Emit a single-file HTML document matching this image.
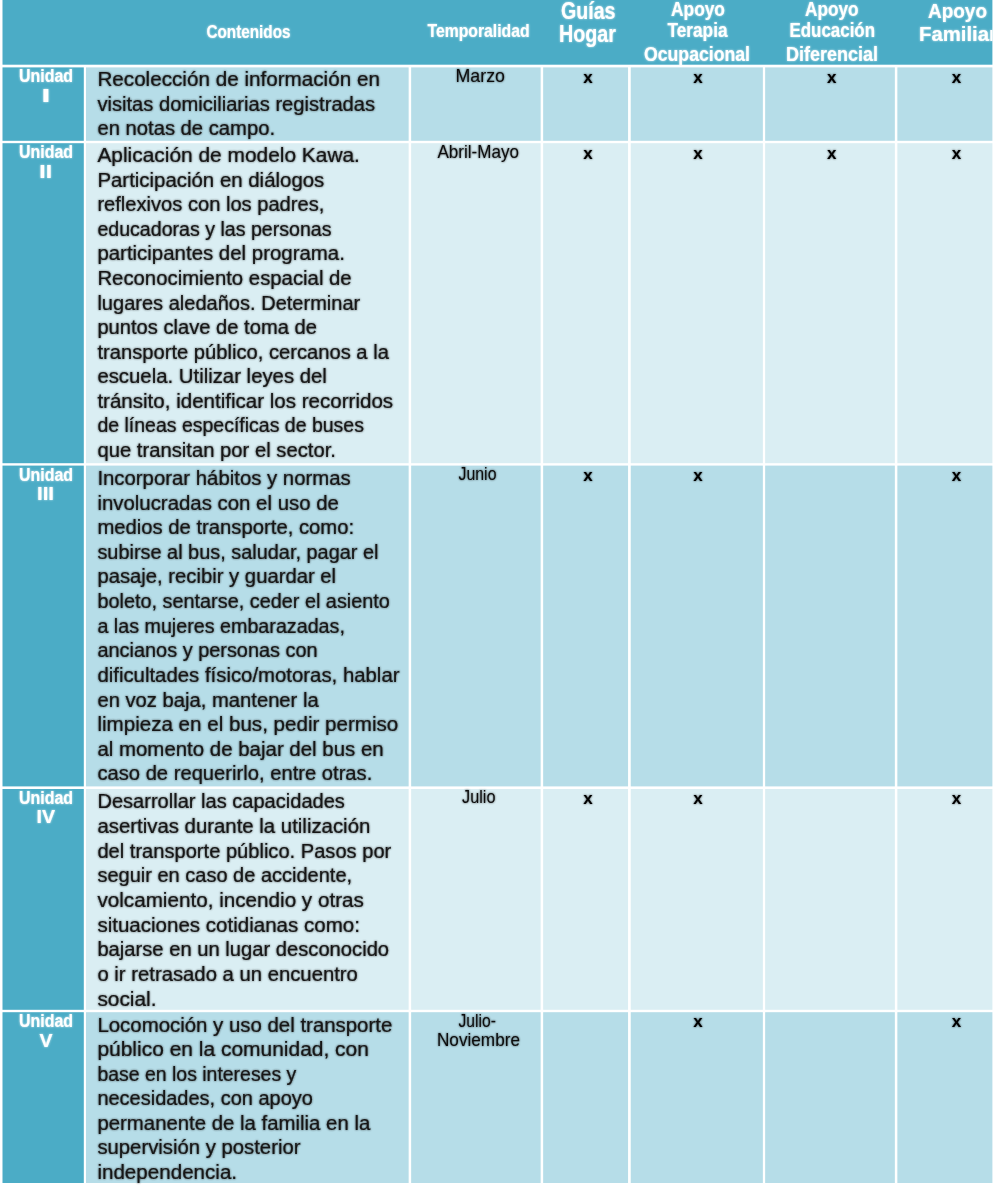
<!DOCTYPE html>
<html lang="es">
<head>
<meta charset="utf-8">
<title>Unidades del programa</title>
<style>
html,body{margin:0;padding:0;background:#fff;}
svg{display:block;}
text{font-family:'Liberation Sans', 'DejaVu Sans', sans-serif;white-space:pre;}
.b{font-size:20px;fill:#181818;stroke:#181818;stroke-width:0.2px;}
.h{font-weight:bold;fill:#fff;}
</style>
</head>
<body>
<svg width="995" height="1186" viewBox="0 0 995 1186">
<defs><clipPath id="hc"><rect x="2.5" y="-10" width="989.9" height="74.7"/></clipPath><filter id="soft" filterUnits="userSpaceOnUse" x="-20" y="-20" width="1140" height="1230"><feGaussianBlur stdDeviation="0.8"/><feComponentTransfer result="b"><feFuncA type="linear" slope="0.7"/></feComponentTransfer><feMerge><feMergeNode in="b"/><feMergeNode in="SourceGraphic"/></feMerge></filter></defs>
<rect x="0" y="0" width="995" height="1186" fill="#fff"/>
<g id="table">
<rect x="-20" y="-20" width="1040" height="1230" fill="#fff"/>
<g id="grid">
<rect x="2.5" y="-10" width="989.9" height="74.7" fill="#4BACC6"/>
<rect x="2.5" y="67.4" width="81.3" height="73.4" fill="#4BACC6"/>
<rect x="86" y="67.4" width="322.65" height="73.4" fill="#B6DDE8"/>
<rect x="411.15" y="67.4" width="129.5" height="73.4" fill="#B6DDE8"/>
<rect x="543.15" y="67.4" width="84.9" height="73.4" fill="#B6DDE8"/>
<rect x="630.75" y="67.4" width="132.1" height="73.4" fill="#B6DDE8"/>
<rect x="765.15" y="67.4" width="129.7" height="73.4" fill="#B6DDE8"/>
<rect x="897.35" y="67.4" width="95.05" height="73.4" fill="#B6DDE8"/>
<rect x="2.5" y="143.2" width="81.3" height="320" fill="#4BACC6"/>
<rect x="86" y="143.2" width="322.65" height="320" fill="#DAEEF3"/>
<rect x="411.15" y="143.2" width="129.5" height="320" fill="#DAEEF3"/>
<rect x="543.15" y="143.2" width="84.9" height="320" fill="#DAEEF3"/>
<rect x="630.75" y="143.2" width="132.1" height="320" fill="#DAEEF3"/>
<rect x="765.15" y="143.2" width="129.7" height="320" fill="#DAEEF3"/>
<rect x="897.35" y="143.2" width="95.05" height="320" fill="#DAEEF3"/>
<rect x="2.5" y="465.6" width="81.3" height="320.8" fill="#4BACC6"/>
<rect x="86" y="465.6" width="322.65" height="320.8" fill="#B6DDE8"/>
<rect x="411.15" y="465.6" width="129.5" height="320.8" fill="#B6DDE8"/>
<rect x="543.15" y="465.6" width="84.9" height="320.8" fill="#B6DDE8"/>
<rect x="630.75" y="465.6" width="132.1" height="320.8" fill="#B6DDE8"/>
<rect x="765.15" y="465.6" width="129.7" height="320.8" fill="#B6DDE8"/>
<rect x="897.35" y="465.6" width="95.05" height="320.8" fill="#B6DDE8"/>
<rect x="2.5" y="789" width="81.3" height="220.8" fill="#4BACC6"/>
<rect x="86" y="789" width="322.65" height="220.8" fill="#DAEEF3"/>
<rect x="411.15" y="789" width="129.5" height="220.8" fill="#DAEEF3"/>
<rect x="543.15" y="789" width="84.9" height="220.8" fill="#DAEEF3"/>
<rect x="630.75" y="789" width="132.1" height="220.8" fill="#DAEEF3"/>
<rect x="765.15" y="789" width="129.7" height="220.8" fill="#DAEEF3"/>
<rect x="897.35" y="789" width="95.05" height="220.8" fill="#DAEEF3"/>
<rect x="2.5" y="1012.2" width="81.3" height="170.8" fill="#4BACC6"/>
<rect x="86" y="1012.2" width="322.65" height="170.8" fill="#B6DDE8"/>
<rect x="411.15" y="1012.2" width="129.5" height="170.8" fill="#B6DDE8"/>
<rect x="543.15" y="1012.2" width="84.9" height="170.8" fill="#B6DDE8"/>
<rect x="630.75" y="1012.2" width="132.1" height="170.8" fill="#B6DDE8"/>
<rect x="765.15" y="1012.2" width="129.7" height="170.8" fill="#B6DDE8"/>
<rect x="897.35" y="1012.2" width="95.05" height="170.8" fill="#B6DDE8"/>
</g>
<g id="labels" filter="url(#soft)">
<text id="t0" x="97.40" y="86.20" textLength="282.50" lengthAdjust="spacingAndGlyphs" class="b">Recolección de información en</text>
<text id="t1" x="97.40" y="110.55" textLength="277.70" lengthAdjust="spacingAndGlyphs" class="b">visitas domiciliarias registradas</text>
<text id="t2" x="97.40" y="134.90" textLength="177.71" lengthAdjust="spacingAndGlyphs" class="b">en notas de campo.</text>
<text id="t3" x="97.40" y="162.10" textLength="262.51" lengthAdjust="spacingAndGlyphs" class="b">Aplicación de modelo Kawa.</text>
<text id="t4" x="97.40" y="186.68" textLength="226.90" lengthAdjust="spacingAndGlyphs" class="b">Participación en diálogos</text>
<text id="t5" x="97.40" y="211.26" textLength="226.90" lengthAdjust="spacingAndGlyphs" class="b">reflexivos con los padres,</text>
<text id="t6" x="97.40" y="235.84" textLength="234.10" lengthAdjust="spacingAndGlyphs" class="b">educadoras y las personas</text>
<text id="t7" x="97.40" y="260.42" textLength="247.51" lengthAdjust="spacingAndGlyphs" class="b">participantes del programa.</text>
<text id="t8" x="97.40" y="285.00" textLength="254.30" lengthAdjust="spacingAndGlyphs" class="b">Reconocimiento espacial de</text>
<text id="t9" x="97.40" y="309.58" textLength="262.90" lengthAdjust="spacingAndGlyphs" class="b">lugares aledaños. Determinar</text>
<text id="t10" x="97.40" y="334.16" textLength="219.50" lengthAdjust="spacingAndGlyphs" class="b">puntos clave de toma de</text>
<text id="t11" x="97.40" y="358.74" textLength="291.50" lengthAdjust="spacingAndGlyphs" class="b">transporte público, cercanos a la</text>
<text id="t12" x="97.40" y="383.32" textLength="229.50" lengthAdjust="spacingAndGlyphs" class="b">escuela. Utilizar leyes del</text>
<text id="t13" x="97.40" y="407.90" textLength="295.70" lengthAdjust="spacingAndGlyphs" class="b">tránsito, identificar los recorridos</text>
<text id="t14" x="97.40" y="432.48" textLength="266.50" lengthAdjust="spacingAndGlyphs" class="b">de líneas específicas de buses</text>
<text id="t15" x="97.40" y="457.06" textLength="238.51" lengthAdjust="spacingAndGlyphs" class="b">que transitan por el sector.</text>
<text id="t16" x="97.40" y="484.90" textLength="253.30" lengthAdjust="spacingAndGlyphs" class="b">Incorporar hábitos y normas</text>
<text id="t17" x="97.40" y="509.53" textLength="241.50" lengthAdjust="spacingAndGlyphs" class="b">involucradas con el uso de</text>
<text id="t18" x="97.40" y="534.16" textLength="256.70" lengthAdjust="spacingAndGlyphs" class="b">medios de transporte, como:</text>
<text id="t19" x="97.40" y="558.79" textLength="281.10" lengthAdjust="spacingAndGlyphs" class="b">subirse al bus, saludar, pagar el</text>
<text id="t20" x="97.40" y="583.42" textLength="238.71" lengthAdjust="spacingAndGlyphs" class="b">pasaje, recibir y guardar el</text>
<text id="t21" x="97.40" y="608.05" textLength="292.50" lengthAdjust="spacingAndGlyphs" class="b">boleto, sentarse, ceder el asiento</text>
<text id="t22" x="97.40" y="632.68" textLength="247.51" lengthAdjust="spacingAndGlyphs" class="b">a las mujeres embarazadas,</text>
<text id="t23" x="97.40" y="657.31" textLength="220.30" lengthAdjust="spacingAndGlyphs" class="b">ancianos y personas con</text>
<text id="t24" x="97.40" y="681.94" textLength="302.10" lengthAdjust="spacingAndGlyphs" class="b">dificultades físico/motoras, hablar</text>
<text id="t25" x="97.40" y="706.57" textLength="221.30" lengthAdjust="spacingAndGlyphs" class="b">en voz baja, mantener la</text>
<text id="t26" x="97.40" y="731.20" textLength="300.90" lengthAdjust="spacingAndGlyphs" class="b">limpieza en el bus, pedir permiso</text>
<text id="t27" x="97.40" y="755.83" textLength="286.30" lengthAdjust="spacingAndGlyphs" class="b">al momento de bajar del bus en</text>
<text id="t28" x="97.40" y="780.46" textLength="274.90" lengthAdjust="spacingAndGlyphs" class="b">caso de requerirlo, entre otras.</text>
<text id="t29" x="97.40" y="808.10" textLength="247.50" lengthAdjust="spacingAndGlyphs" class="b">Desarrollar las capacidades</text>
<text id="t30" x="97.40" y="832.83" textLength="272.90" lengthAdjust="spacingAndGlyphs" class="b">asertivas durante la utilización</text>
<text id="t31" x="97.40" y="857.56" textLength="293.90" lengthAdjust="spacingAndGlyphs" class="b">del transporte público. Pasos por</text>
<text id="t32" x="97.40" y="882.29" textLength="254.70" lengthAdjust="spacingAndGlyphs" class="b">seguir en caso de accidente,</text>
<text id="t33" x="97.40" y="907.02" textLength="266.50" lengthAdjust="spacingAndGlyphs" class="b">volcamiento, incendio y otras</text>
<text id="t34" x="97.40" y="931.75" textLength="262.51" lengthAdjust="spacingAndGlyphs" class="b">situaciones cotidianas como:</text>
<text id="t35" x="97.40" y="956.48" textLength="291.70" lengthAdjust="spacingAndGlyphs" class="b">bajarse en un lugar desconocido</text>
<text id="t36" x="97.40" y="981.21" textLength="260.50" lengthAdjust="spacingAndGlyphs" class="b">o ir retrasado a un encuentro</text>
<text id="t37" x="97.40" y="1005.94" textLength="59.13" lengthAdjust="spacingAndGlyphs" class="b">social.</text>
<text id="t38" x="97.40" y="1031.50" textLength="294.90" lengthAdjust="spacingAndGlyphs" class="b">Locomoción y uso del transporte</text>
<text id="t39" x="97.40" y="1056.07" textLength="271.50" lengthAdjust="spacingAndGlyphs" class="b">público en la comunidad, con</text>
<text id="t40" x="97.40" y="1080.64" textLength="198.90" lengthAdjust="spacingAndGlyphs" class="b">base en los intereses y</text>
<text id="t41" x="97.40" y="1105.21" textLength="215.50" lengthAdjust="spacingAndGlyphs" class="b">necesidades, con apoyo</text>
<text id="t42" x="97.40" y="1129.78" textLength="272.90" lengthAdjust="spacingAndGlyphs" class="b">permanente de la familia en la</text>
<text id="t43" x="97.40" y="1154.35" textLength="203.10" lengthAdjust="spacingAndGlyphs" class="b">supervisión y posterior</text>
<text id="t44" x="97.40" y="1178.92" textLength="139.70" lengthAdjust="spacingAndGlyphs" class="b">independencia.</text>
<text id="t45" x="206.49" y="37.50" textLength="83.99" lengthAdjust="spacingAndGlyphs" style="font-size:19px;font-weight:bold;fill:#fff;stroke:#fff;stroke-width:0.1px">Contenidos</text>
<text id="t46" x="427.50" y="37.40" textLength="102.01" lengthAdjust="spacingAndGlyphs" style="font-size:19px;font-weight:bold;fill:#fff;stroke:#fff;stroke-width:0.1px">Temporalidad</text>
<text id="t47" x="561.00" y="18.50" textLength="54.52" lengthAdjust="spacingAndGlyphs" style="font-size:23px;font-weight:bold;fill:#fff;stroke:#fff;stroke-width:0.1px">Guías</text>
<text id="t48" x="559.02" y="42.00" textLength="56.98" lengthAdjust="spacingAndGlyphs" style="font-size:23px;font-weight:bold;fill:#fff;stroke:#fff;stroke-width:0.1px">Hogar</text>
<text id="t49" x="671.00" y="16.40" textLength="53.98" lengthAdjust="spacingAndGlyphs" style="font-size:19.5px;font-weight:bold;fill:#fff;stroke:#fff;stroke-width:0.1px">Apoyo</text>
<text id="t50" x="667.49" y="36.80" textLength="60.03" lengthAdjust="spacingAndGlyphs" style="font-size:19.5px;font-weight:bold;fill:#fff;stroke:#fff;stroke-width:0.1px">Terapia</text>
<text id="t51" x="644.02" y="60.50" textLength="106.00" lengthAdjust="spacingAndGlyphs" style="font-size:19.5px;font-weight:bold;fill:#fff;stroke:#fff;stroke-width:0.1px">Ocupacional</text>
<text id="t52" x="805.02" y="16.40" textLength="53.49" lengthAdjust="spacingAndGlyphs" style="font-size:19.5px;font-weight:bold;fill:#fff;stroke:#fff;stroke-width:0.1px">Apoyo</text>
<text id="t53" x="789.49" y="36.90" textLength="85.51" lengthAdjust="spacingAndGlyphs" style="font-size:19.5px;font-weight:bold;fill:#fff;stroke:#fff;stroke-width:0.1px">Educación</text>
<text id="t54" x="785.99" y="60.50" textLength="92.01" lengthAdjust="spacingAndGlyphs" style="font-size:19.5px;font-weight:bold;fill:#fff;stroke:#fff;stroke-width:0.1px">Diferencial</text>
<text id="t55" x="928.00" y="18.10" textLength="58.98" lengthAdjust="spacingAndGlyphs" style="font-size:21px;font-weight:bold;fill:#fff;stroke:#fff;stroke-width:0.1px">Apoyo</text>
<text id="t56" x="919.00" y="41.20" textLength="78.00" lengthAdjust="spacingAndGlyphs" style="font-size:21px;font-weight:bold;fill:#fff;stroke:#fff;stroke-width:0.1px" clip-path="url(#hc)">Familiar</text>
<text id="t57" x="19.00" y="82.10" textLength="54.00" lengthAdjust="spacingAndGlyphs" style="font-size:17.5px;font-weight:bold;fill:#fff;stroke:#fff;stroke-width:0.1px">Unidad</text>
<text id="t58" x="41.60" y="101.80" textLength="8.75" lengthAdjust="spacingAndGlyphs" style="font-size:17.5px;font-weight:bold;fill:#fff;stroke:#fff;stroke-width:0.1px">I</text>
<text id="t59" x="19.00" y="158.10" textLength="54.00" lengthAdjust="spacingAndGlyphs" style="font-size:17.5px;font-weight:bold;fill:#fff;stroke:#fff;stroke-width:0.1px">Unidad</text>
<text id="t60" x="39.37" y="177.80" textLength="12.72" lengthAdjust="spacingAndGlyphs" style="font-size:17.5px;font-weight:bold;fill:#fff;stroke:#fff;stroke-width:0.1px">II</text>
<text id="t61" x="19.00" y="480.60" textLength="54.00" lengthAdjust="spacingAndGlyphs" style="font-size:17.5px;font-weight:bold;fill:#fff;stroke:#fff;stroke-width:0.1px">Unidad</text>
<text id="t62" x="36.97" y="500.30" textLength="17.07" lengthAdjust="spacingAndGlyphs" style="font-size:17.5px;font-weight:bold;fill:#fff;stroke:#fff;stroke-width:0.1px">III</text>
<text id="t63" x="19.00" y="803.60" textLength="54.00" lengthAdjust="spacingAndGlyphs" style="font-size:17.5px;font-weight:bold;fill:#fff;stroke:#fff;stroke-width:0.1px">Unidad</text>
<text id="t64" x="36.50" y="823.30" textLength="18.53" lengthAdjust="spacingAndGlyphs" style="font-size:17.5px;font-weight:bold;fill:#fff;stroke:#fff;stroke-width:0.1px">IV</text>
<text id="t65" x="19.00" y="1026.80" textLength="54.00" lengthAdjust="spacingAndGlyphs" style="font-size:17.5px;font-weight:bold;fill:#fff;stroke:#fff;stroke-width:0.1px">Unidad</text>
<text id="t66" x="39.48" y="1046.50" textLength="13.04" lengthAdjust="spacingAndGlyphs" style="font-size:17.5px;font-weight:bold;fill:#fff;stroke:#fff;stroke-width:0.1px">V</text>
<text id="t67" x="455.48" y="82.40" textLength="49.52" lengthAdjust="spacingAndGlyphs" style="font-size:19px;fill:#0a0a0a;stroke:#0a0a0a;stroke-width:0px">Marzo</text>
<text id="t68" x="437.50" y="158.20" textLength="81.49" lengthAdjust="spacingAndGlyphs" style="font-size:19px;fill:#0a0a0a;stroke:#0a0a0a;stroke-width:0px">Abril-Mayo</text>
<text id="t69" x="458.48" y="480.10" textLength="38.03" lengthAdjust="spacingAndGlyphs" style="font-size:19px;fill:#0a0a0a;stroke:#0a0a0a;stroke-width:0px">Junio</text>
<text id="t70" x="462.00" y="803.10" textLength="33.51" lengthAdjust="spacingAndGlyphs" style="font-size:19px;fill:#0a0a0a;stroke:#0a0a0a;stroke-width:0px">Julio</text>
<text id="t71" x="458.49" y="1026.80" textLength="37.49" lengthAdjust="spacingAndGlyphs" style="font-size:19px;fill:#0a0a0a;stroke:#0a0a0a;stroke-width:0px">Julio-</text>
<text id="t72" x="436.98" y="1046.00" textLength="83.04" lengthAdjust="spacingAndGlyphs" style="font-size:19px;fill:#0a0a0a;stroke:#0a0a0a;stroke-width:0px">Noviembre</text>
<text id="t73" x="588.10" y="82.80" text-anchor="middle" style="font-size:17px;font-weight:bold;fill:#000">x</text>
<text id="t74" x="698.00" y="82.80" text-anchor="middle" style="font-size:17px;font-weight:bold;fill:#000">x</text>
<text id="t75" x="831.80" y="82.80" text-anchor="middle" style="font-size:17px;font-weight:bold;fill:#000">x</text>
<text id="t76" x="956.50" y="82.80" text-anchor="middle" style="font-size:17px;font-weight:bold;fill:#000">x</text>
<text id="t77" x="588.10" y="158.60" text-anchor="middle" style="font-size:17px;font-weight:bold;fill:#000">x</text>
<text id="t78" x="698.00" y="158.60" text-anchor="middle" style="font-size:17px;font-weight:bold;fill:#000">x</text>
<text id="t79" x="831.80" y="158.60" text-anchor="middle" style="font-size:17px;font-weight:bold;fill:#000">x</text>
<text id="t80" x="956.50" y="158.60" text-anchor="middle" style="font-size:17px;font-weight:bold;fill:#000">x</text>
<text id="t81" x="588.10" y="480.50" text-anchor="middle" style="font-size:17px;font-weight:bold;fill:#000">x</text>
<text id="t82" x="698.00" y="480.50" text-anchor="middle" style="font-size:17px;font-weight:bold;fill:#000">x</text>
<text id="t83" x="956.50" y="480.50" text-anchor="middle" style="font-size:17px;font-weight:bold;fill:#000">x</text>
<text id="t84" x="588.10" y="803.50" text-anchor="middle" style="font-size:17px;font-weight:bold;fill:#000">x</text>
<text id="t85" x="698.00" y="803.50" text-anchor="middle" style="font-size:17px;font-weight:bold;fill:#000">x</text>
<text id="t86" x="956.50" y="803.50" text-anchor="middle" style="font-size:17px;font-weight:bold;fill:#000">x</text>
<text id="t87" x="698.00" y="1027.20" text-anchor="middle" style="font-size:17px;font-weight:bold;fill:#000">x</text>
<text id="t88" x="956.50" y="1027.20" text-anchor="middle" style="font-size:17px;font-weight:bold;fill:#000">x</text>
</g>
</g>
</svg>
</body>
</html>
